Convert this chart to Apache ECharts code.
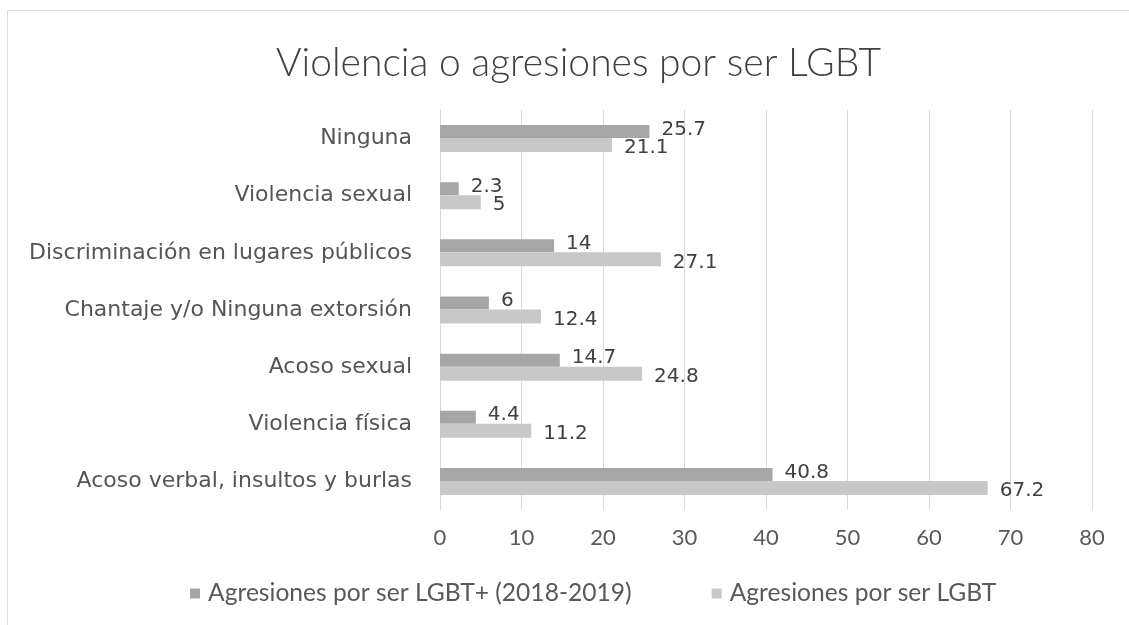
<!DOCTYPE html>
<html>
<head>
<meta charset="utf-8">
<script src="https://cdn.jsdelivr.net/npm/echarts@6/dist/echarts.min.js"></script>
<style>
  html, body { margin: 0; padding: 0; background: #ffffff; }
  #chart { width: 1129px; height: 625px; }
</style>
</head>
<body>
<div id="chart"></div>
<script>
// Categories, top to bottom
const categories = [
  'Ninguna',
  'Violencia sexual',
  'Discriminación en lugares públicos',
  'Chantaje y/o Ninguna extorsión',
  'Acoso sexual',
  'Violencia física',
  'Acoso verbal, insultos y burlas'
];
const seriesNames = ['Agresiones por ser LGBT+ (2018-2019)', 'Agresiones por ser LGBT'];
const values2018 = [25.7, 2.3, 14, 6, 14.7, 4.4, 40.8];
const valuesLGBT = [21.1, 5, 27.1, 12.4, 24.8, 11.2, 67.2];
const xTicks = [0, 10, 20, 30, 40, 50, 60, 70, 80];

const chart = echarts.init(document.getElementById('chart'), null, { renderer: 'canvas' });

function valueLabel(dy) {
  return {
    show: true,
    position: 'right',
    distance: 12,
    offset: [0, dy],
    color: '#404040',
    fontFamily: 'DejaVu Sans',
    fontSize: 20
  };
}

chart.setOption({
  backgroundColor: '#ffffff',
  animation: false,
  title: {
    text: 'Violencia o agresiones por ser LGBT',
    left: 271,
    top: 39,
    textStyle: { fontFamily: 'Lato', fontWeight: 300, fontSize: 39, color: '#404040' }
  },
  legend: {
    bottom: 14,
    left: 185,
    itemWidth: 10,
    itemHeight: 10,
    itemGap: 80,
    icon: 'rect',
    textStyle: { fontFamily: 'Lato', fontSize: 24.6, color: '#595959', padding: [0, 0, 0, 3] },
    data: seriesNames
  },
  grid: { left: 440, right: 37, top: 110, bottom: 115, containLabel: false },
  xAxis: {
    type: 'value',
    min: xTicks[0],
    max: xTicks[xTicks.length - 1],
    interval: 10,
    axisLine: { show: false },
    axisTick: { show: false },
    axisLabel: { margin: 17, fontFamily: 'Lato', fontSize: 22, color: '#595959' },
    splitLine: { show: true, lineStyle: { color: '#d9d9d9', width: 1 } }
  },
  yAxis: {
    type: 'category',
    data: categories,
    inverse: true,
    axisLine: { show: true, lineStyle: { color: '#d9d9d9' } },
    axisTick: { show: false },
    axisLabel: { margin: 28, fontFamily: 'DejaVu Sans', fontSize: 22, color: '#555555' }
  },
  series: [
    {
      name: seriesNames[0],
      type: 'bar',
      data: values2018,
      barWidth: 13,
      barGap: '0%',
      itemStyle: { color: '#a6a6a6' },
      label: valueLabel(-2)
    },
    {
      name: seriesNames[1],
      type: 'bar',
      data: valuesLGBT,
      barWidth: 14,
      barGap: '0%',
      itemStyle: { color: '#c8c8c8' },
      label: valueLabel(3)
    }
  ],
  graphic: [{
    type: 'rect',
    shape: { x: 7.5, y: 10.5, width: 1125, height: 620 },
    style: { fill: 'none', stroke: '#dcdcdc', lineWidth: 1 },
    silent: true
  }]
});
</script>
</body>
</html>
